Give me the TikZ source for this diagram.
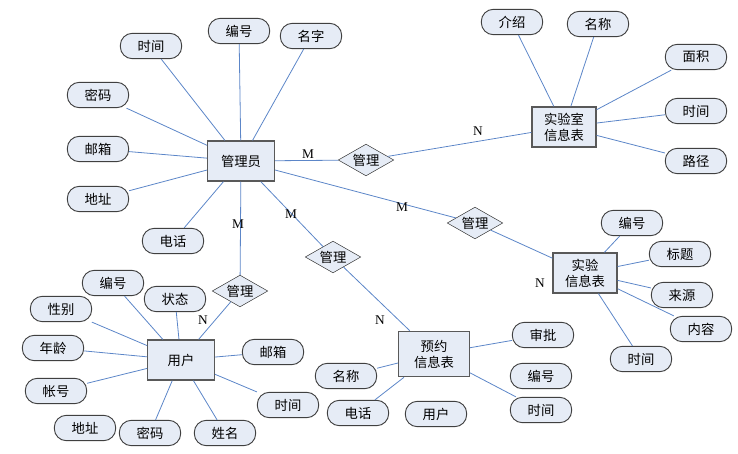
\documentclass[tikz,border=0pt]{standalone}
\usepackage{fontspec}
\usetikzlibrary{shapes.geometric}
\newfontfamily\cjk{Noto Sans CJK SC}
\setmainfont{Liberation Serif}
\definecolor{boxfill}{HTML}{E6ECF6}
\definecolor{linkcol}{HTML}{5C86C8}

\tikzset{
    attr/.style={draw=black!75, fill=boxfill, rounded corners=9pt, minimum width=46pt, minimum height=19pt, font=\cjk\fontsize{10}{12}\selectfont, line width=0.7pt},
    entity/.style={draw=black!65, fill=boxfill, minimum width=50pt, minimum height=30pt, align=center, font=\cjk\fontsize{10}{12}\selectfont, line width=1pt},
    rel/.style={diamond, aspect=1.75, draw=black!75, fill=boxfill, inner sep=1pt, font=\cjk\fontsize{10}{12}\selectfont},
    link/.style={draw=linkcol, line width=0.6pt},
    card/.style={font=\fontsize{10}{12}\selectfont}
}

\begin{document}
\begin{tikzpicture}[x=0.75pt, y=-0.75pt]
    \useasboundingbox (0,0) rectangle (738,453);

    % entities
    \node[entity] (admin) at (241,161) {管理员};
    \node[entity, minimum width=48pt] (lab) at (564,127) {实验室\\信息表};
    \node[entity, minimum width=48pt] (exp) at (585,273) {实验\\信息表};
    \node[entity, minimum width=53pt, minimum height=34pt] (book) at (434,354) {预约\\信息表};
    \node[entity] (user) at (181,360) {用户};

    % relations
    \node[rel] (r1) at (366,160) {管理};
    \node[rel] (r2) at (475,223) {管理};
    \node[rel] (r3) at (333,257) {管理};
    \node[rel] (r4) at (240,291) {管理};

    % admin attributes
    \foreach \n/\t/\x/\y in {a1/时间/151/46, a2/编号/239/31, a3/名字/311/36, a4/密码/98/95,
                             a5/邮箱/98/149, a6/地址/98/199, a7/电话/173/241}{
        \node[attr] (\n) at (\x,\y) {\t};
        \draw[link] (\n) -- (admin);
    }

    % lab attributes
    \foreach \n/\t/\x/\y in {l1/介绍/512/22, l2/名称/598/24, l3/面积/696/57, l4/时间/696/111, l5/路径/696/161}{
        \node[attr] (\n) at (\x,\y) {\t};
        \draw[link] (\n) -- (lab);
    }

    % exp attributes
    \foreach \n/\t/\x/\y in {e1/编号/632/223, e2/标题/680/254, e3/来源/682/295, e4/内容/701/329, e5/时间/641/359}{
        \node[attr] (\n) at (\x,\y) {\t};
        \draw[link] (\n) -- (exp);
    }

    % booking attributes
    \foreach \n/\t/\x/\y in {b1/审批/543/335, b2/名称/346/376, b3/电话/358/413, b4/时间/541/410}{
        \node[attr] (\n) at (\x,\y) {\t};
        \draw[link] (\n) -- (book);
    }
    \node[attr] (b5) at (541,376) {编号};
    \node[attr] (b6) at (436,414) {用户};

    % user attributes
    \foreach \n/\t/\x/\y in {u1/编号/113/283, u2/状态/175/299, u3/性别/61/309, u4/年龄/53/348, u5/帐号/56/391,
                             u6/邮箱/273/352, u7/时间/288/405, u8/密码/150/433, u9/姓名/225/433}{
        \node[attr] (\n) at (\x,\y) {\t};
        \draw[link] (\n) -- (user);
    }
    \node[attr] (u10) at (85,428) {地址};

    % relationships
    \draw[link] (admin) -- (r1);
    \draw[link] (r1) -- (lab);
    \draw[link] (admin) -- (r2);
    \draw[link] (r2) -- (exp);
    \draw[link] (admin) -- (r3);
    \draw[link] (r3) -- (book);
    \draw[link] (admin) -- (r4);
    \draw[link] (r4) -- (user);

    % cardinalities
    \node[card] (c1) at (308,154) {M};
    \node[card] (c2) at (478,131) {N};
    \node[card] (c3) at (402,207) {M};
    \node[card] (c4) at (540,283) {N};
    \node[card] (c5) at (291,214) {M};
    \node[card] (c6) at (380,320) {N};
    \node[card] (c7) at (238,224) {M};
    \node[card] (c8) at (203,320) {N};
\end{tikzpicture}
\end{document}
